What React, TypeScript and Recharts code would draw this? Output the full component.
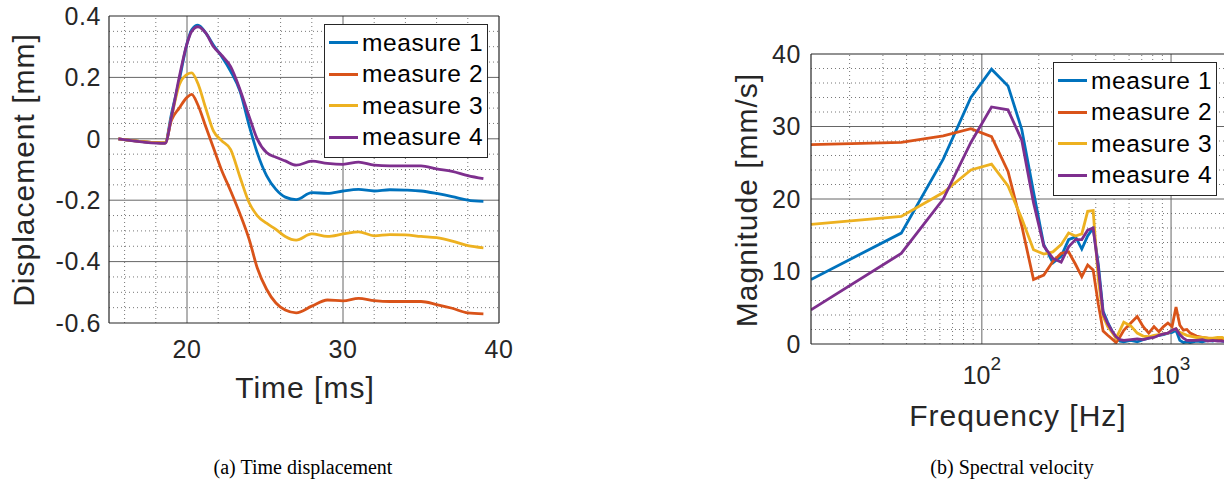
import React from 'react';
import { LineChart, Line, XAxis, YAxis, ReferenceLine, Legend } from 'recharts';

// (a) time displacement, mm
const timeMs = [15.6, 18.6, 19.0, 19.5, 20.0, 20.3, 20.7, 21.2, 21.7, 22.2, 22.8, 23.4, 24.0, 24.5, 25.1, 25.7, 26.3, 27.0, 28.0, 29.0, 30.0, 31.0, 32.0, 33.0, 34.0, 35.0, 36.0, 37.0, 38.0, 39.0];
const disp1 = [0, -0.013, 0.08, 0.19, 0.31, 0.355, 0.37, 0.345, 0.305, 0.27, 0.22, 0.155, 0.04, -0.045, -0.12, -0.165, -0.19, -0.198, -0.175, -0.178, -0.17, -0.165, -0.17, -0.166, -0.167, -0.17, -0.178, -0.188, -0.2, -0.204];
const disp2 = [0, -0.013, 0.06, 0.1, 0.135, 0.145, 0.11, 0.04, -0.03, -0.1, -0.17, -0.245, -0.33, -0.42, -0.49, -0.535, -0.558, -0.567, -0.545, -0.525, -0.528, -0.52, -0.527, -0.53, -0.53, -0.53, -0.54, -0.552, -0.567, -0.57];
const disp3 = [0, -0.013, 0.07, 0.175, 0.21, 0.215, 0.18, 0.1, 0.025, -0.005, -0.035, -0.125, -0.21, -0.25, -0.275, -0.295, -0.318, -0.33, -0.31, -0.318, -0.31, -0.303, -0.316, -0.312, -0.313, -0.318, -0.322, -0.333, -0.348, -0.355];
const disp4 = [0, -0.015, 0.07, 0.2, 0.31, 0.35, 0.365, 0.345, 0.3, 0.273, 0.235, 0.16, 0.07, 0.0, -0.045, -0.06, -0.072, -0.086, -0.073, -0.08, -0.083, -0.076, -0.086, -0.088, -0.088, -0.088, -0.098, -0.106, -0.12, -0.13];

// (b) spectral velocity, mm/s
const freqHz = [12.5, 37.5, 62.5, 87.5, 112.5, 137.5, 162.5, 187.5, 212.5, 237.5, 262.5, 287.5, 312.5, 337.5, 362.5, 387.5, 412.5, 437.5, 462.5, 487.5, 512.5,
  537.5, 562.5, 612.5, 662.5, 712.5, 762.5, 812.5, 862.5, 912.5, 962.5, 1012.5, 1062.5, 1112.5, 1162.5, 1212.5, 1262.5, 1362.5, 1462.5, 1562.5, 1662.5, 1762.5, 1862.5, 1962.5];
const mag1 = [8.9, 15.3, 25.5, 34.0, 37.9, 35.6, 29.6, 21.0, 13.7, 11.2, 12.1, 14.4, 14.8, 13.1, 14.9, 16.0, 11.0, 4.5, 3.0, 1.8, 0.8,
  0.4, 0.3, 0.5, 0.3, 0.6, 0.8, 1.0, 1.2, 1.3, 1.5, 1.6, 1.9, 0.5, 0.2, 0.3, 0.2, 0.4, 0.3, 0.5, 0.4, 0.6, 0.4, 0.3];
const mag2 = [27.5, 27.8, 28.7, 29.7, 28.6, 23.8, 16.3, 8.9, 9.5, 11.4, 12.5, 12.7, 11.0, 9.3, 10.9, 10.2, 5.5, 1.8, 1.2, 0.7, 0.2,
  1.0, 1.9, 2.9, 3.8, 2.4, 1.5, 2.4, 1.7, 2.4, 2.9, 2.4, 5.1, 2.6, 1.9, 2.0, 1.5, 1.1, 0.9, 0.8, 0.6, 0.8, 0.5, 0.5];
const mag3 = [16.5, 17.6, 20.9, 24.0, 24.8, 21.8, 17.3, 13.0, 12.4, 12.7, 13.7, 15.3, 14.9, 15.2, 18.3, 18.4, 8.9, 3.8, 2.4, 1.6, 0.8,
  1.9, 3.0, 2.5, 1.5, 1.1, 1.0, 1.2, 1.3, 1.4, 1.5, 1.9, 2.1, 1.6, 1.4, 1.2, 1.1, 0.9, 0.9, 0.8, 0.8, 0.9, 0.9, 0.6];
const mag4 = [4.7, 12.5, 20.0, 27.8, 32.7, 32.3, 28.1, 19.5, 13.5, 11.8, 11.3, 13.4, 14.4, 14.4, 15.7, 16.0, 10.5, 4.2, 2.8, 1.8, 1.0,
  0.6, 0.5, 0.6, 0.7, 0.6, 0.8, 0.9, 1.2, 1.4, 1.5, 1.9, 2.1, 1.3, 0.8, 0.5, 0.5, 0.5, 0.6, 0.4, 0.5, 0.4, 0.4, 0.3];

const seriesNames = ['measure 1', 'measure 2', 'measure 3', 'measure 4'];
const seriesColors = ['#0072BD', '#D95319', '#EDB120', '#7E2F8E'];

// grid positions
const timeMajor = [20, 30];
const timeMinor = [16, 18, 22, 24, 26, 28, 32, 34, 36, 38];
const dispMajor = [-0.4, -0.2, 0, 0.2];
const dispMinor = [-0.55, -0.5, -0.45, -0.35, -0.3, -0.25, -0.15, -0.1, -0.05, 0.05, 0.1, 0.15, 0.25, 0.3, 0.35];
const freqMajor = [100, 1000];
const freqMinor = [20, 30, 40, 50, 60, 70, 80, 90, 200, 300, 400, 500, 600, 700, 800, 900];
const magMajor = [10, 20, 30];
const magMinor = [2, 4, 6, 8, 12, 14, 16, 18, 22, 24, 26, 28, 32, 34, 36, 38];

const timeData = timeMs.map((t, i) => ({ t, m1: disp1[i], m2: disp2[i], m3: disp3[i], m4: disp4[i] }));
const freqData = freqHz.map((f, i) => ({ f, m1: mag1[i], m2: mag2[i], m3: mag3[i], m4: mag4[i] }));

const FONT = '"Liberation Sans", Arial, Helvetica, sans-serif';
const AXIS = '#262626';
const MAJOR = '#666';
const MINOR = '#777';

const tickStyle = { fill: AXIS, fontSize: 25, fontFamily: FONT, letterSpacing: 0.6 };

const LegendBox = ({ payload }: any) => (
  <div style={{ border: `1px solid ${AXIS}`, background: '#fff', padding: '2px 4px 4px 4px', fontFamily: FONT }}>
    {(payload || []).map((p: any) => (
      <div key={p.value} style={{ display: 'flex', alignItems: 'center', height: 31.5 }}>
        <span style={{ display: 'inline-block', width: 29, height: 3, background: p.color, marginRight: 4 }} />
        <span style={{ fontSize: 24.5, letterSpacing: 0.6, color: '#000', lineHeight: 1 }}>{p.value}</span>
      </div>
    ))}
  </div>
);

const PowerTick = ({ x, y, payload }: any) => {
  const exp = Math.round(Math.log10(payload.value));
  return (
    <text x={x} y={y + 40} textAnchor="middle" fill={AXIS} fontFamily={FONT} fontSize={25}>
      <tspan>10</tspan>
      <tspan dy={-14} fontSize={19}>{exp}</tspan>
    </text>
  );
};

const Title = ({ x, y, text, rotate, size = 30, serif }: any) => (
  <div style={{
    position: 'absolute', left: x, top: y, whiteSpace: 'nowrap', lineHeight: 1,
    fontFamily: serif ? '"Liberation Serif", "Times New Roman", serif' : FONT,
    fontSize: size, letterSpacing: serif ? 0 : 1, color: serif ? '#000' : AXIS,
    transform: `translate(-50%, -50%)${rotate ? ' rotate(-90deg)' : ''}`,
  }}>{text}</div>
);

const keys = ['m1', 'm2', 'm3', 'm4'];

const App = () => {
  return (
    <div style={{ position: 'absolute', left: 0, top: 0, width: 1224, height: 486, overflow: 'hidden', background: '#fff' }}>
      <div style={{ position: 'absolute', left: 0, top: 0 }}>
        <LineChart width={520} height={486} data={timeData} margin={{ top: 16, right: 21, left: 59, bottom: 83 }} style={{ fontFamily: FONT }}>
          <XAxis dataKey="t" type="number" domain={[15, 40]} ticks={[20, 30, 40]} tickSize={0} tickMargin={17}
            height={80} tick={tickStyle} axisLine={{ stroke: AXIS, strokeWidth: 1.2 }} tickLine={false} allowDataOverflow />
          <YAxis type="number" domain={[-0.6, 0.4]} ticks={[-0.6, -0.4, -0.2, 0, 0.2, 0.4]} width={50} tickSize={0} tickMargin={8}
            tick={tickStyle} tickFormatter={(v: number) => (v === 0 ? '0' : v.toFixed(1))}
            axisLine={{ stroke: AXIS, strokeWidth: 1.2 }} tickLine={false} allowDataOverflow />
          {timeMinor.map((v) => <ReferenceLine key={'tx' + v} x={v} stroke={MINOR} strokeDasharray="1 3" />)}
          {dispMinor.map((v) => <ReferenceLine key={'ty' + v} y={v} stroke={MINOR} strokeDasharray="1 3" />)}
          {timeMajor.map((v) => <ReferenceLine key={'TX' + v} x={v} stroke={MAJOR} />)}
          {dispMajor.map((v) => <ReferenceLine key={'TY' + v} y={v} stroke={MAJOR} />)}
          <ReferenceLine y={0.4} stroke={AXIS} strokeWidth={1.2} />
          <ReferenceLine x={40} stroke={AXIS} strokeWidth={1.2} />
          {keys.map((k, i) => (
            <Line key={k} type="monotone" dataKey={k} name={seriesNames[i]} stroke={seriesColors[i]} strokeWidth={2.8} dot={false} isAnimationActive={false} />
          ))}
          <Legend layout="vertical" align="center" verticalAlign="middle" content={<LegendBox />}
            wrapperStyle={{ left: 324, top: 24, width: 'auto', height: 'auto' }} />
        </LineChart>
      </div>

      <div style={{ position: 'absolute', left: 700, top: 0 }}>
        <LineChart width={540} height={486} data={freqData} margin={{ top: 54, right: 12, left: 61, bottom: 82 }} style={{ fontFamily: FONT }}>
          <XAxis dataKey="f" type="number" scale="log" domain={[12.5, 2000]} ticks={[100, 1000]} tickSize={0} tickMargin={0}
            height={60} tick={<PowerTick />} axisLine={{ stroke: AXIS, strokeWidth: 1.2 }} tickLine={false} allowDataOverflow />
          <YAxis type="number" domain={[0, 40]} ticks={[0, 10, 20, 30, 40]} width={50} tickSize={0} tickMargin={10}
            tick={tickStyle} axisLine={{ stroke: AXIS, strokeWidth: 1.2 }} tickLine={false} allowDataOverflow />
          {freqMinor.map((v) => <ReferenceLine key={'fx' + v} x={v} stroke={MINOR} strokeDasharray="1 3" />)}
          {magMinor.map((v) => <ReferenceLine key={'fy' + v} y={v} stroke={MINOR} strokeDasharray="1 3" />)}
          {freqMajor.map((v) => <ReferenceLine key={'FX' + v} x={v} stroke={MAJOR} />)}
          {magMajor.map((v) => <ReferenceLine key={'FY' + v} y={v} stroke={MAJOR} />)}
          <ReferenceLine y={40} stroke={AXIS} strokeWidth={1.2} />
          {keys.map((k, i) => (
            <Line key={k} type="linear" dataKey={k} name={seriesNames[i]} stroke={seriesColors[i]} strokeWidth={2.8} dot={false} isAnimationActive={false} />
          ))}
          <Legend layout="vertical" align="center" verticalAlign="middle" content={<LegendBox />}
            wrapperStyle={{ left: 353, top: 62, width: 'auto', height: 'auto' }} />
        </LineChart>
      </div>

      <Title x={24} y={170} text="Displacement [mm]" rotate />
      <Title x={305} y={388} text="Time [ms]" />
      <Title x={747} y={200} text="Magnitude [mm/s]" rotate />
      <Title x={1018} y={416} text="Frequency [Hz]" />
      <Title x={303} y={467} text="(a) Time displacement" size={20} serif />
      <Title x={1012} y={467} text="(b) Spectral velocity" size={20} serif />
    </div>
  );
};

export default App;
